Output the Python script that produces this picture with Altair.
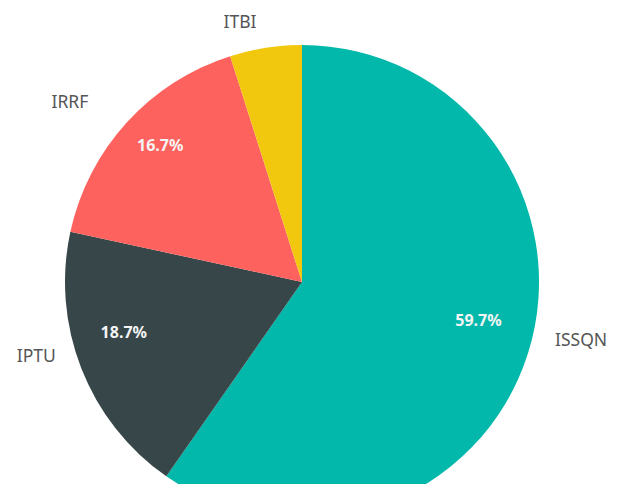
import altair as alt
import pandas as pd

categories = ["ISSQN", "IPTU", "IRRF", "ITBI"]
values = [59.7, 18.7, 16.7, 4.9]
pct_labels = ["59.7%", "18.7%", "16.7%", ""]
colors = ["#01B8AA", "#374649", "#FD625E", "#F2C80F"]

df = pd.DataFrame({
    "category": categories,
    "value": values,
    "pct": pct_labels,
    "idx": list(range(len(categories))),
})

# label nudges (style only)
name_offsets = {"ISSQN": (12, -25), "IPTU": (-5, -27), "IRRF": (-25, 9), "ITBI": (-19, 18)}
pct_offsets = {"ISSQN": (0, -17), "IPTU": (-6, -17), "IRRF": (-5, -11), "ITBI": (0, 0)}

base = alt.Chart(df).encode(
    theta=alt.Theta("value:Q", stack=True),
    order=alt.Order("idx:Q", sort="ascending"),
    x=alt.value(294),
    y=alt.value(274),
)

arcs = base.mark_arc(outerRadius=237, strokeWidth=0).encode(
    color=alt.Color("category:N", scale=alt.Scale(domain=categories, range=colors), legend=None)
)

layers = [arcs]
for cat in categories:
    dx, dy = name_offsets[cat]
    layers.append(
        base.mark_text(radius=280, dx=dx, dy=dy, font="Noto Sans", fontSize=17.5, color="#555555")
        .encode(text="category:N", opacity=alt.condition(alt.datum.category == cat, alt.value(1), alt.value(0)))
    )
    pdx, pdy = pct_offsets[cat]
    layers.append(
        base.mark_text(radius=185, dx=pdx, dy=pdy, font="Noto Sans", fontSize=16, fontWeight="bold", color="#F4F4F4")
        .encode(text="pct:N", opacity=alt.condition(alt.datum.category == cat, alt.value(1), alt.value(0)))
    )

chart = alt.layer(*layers).properties(
    width=603, height=548,
    autosize=alt.AutoSizeParams(type="none"),
    padding=0,
).configure_view(stroke=None)

chart.save("out.html", embed_options={"renderer": "svg", "actions": False})
